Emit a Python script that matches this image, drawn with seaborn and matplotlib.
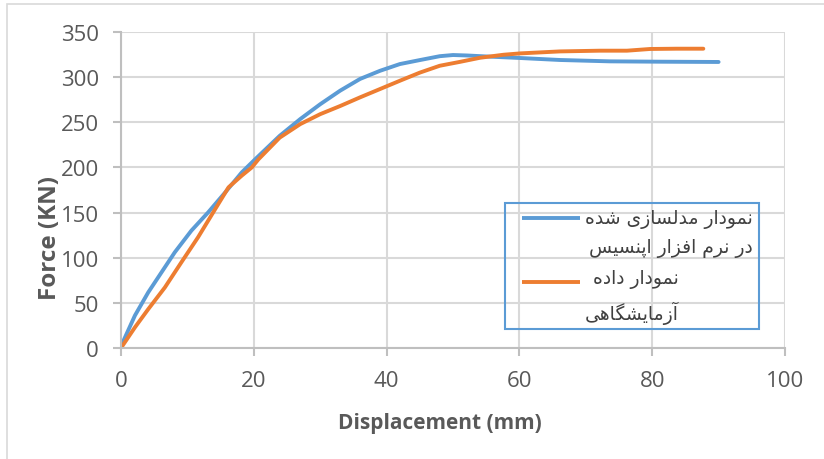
import seaborn as sns
import matplotlib.pyplot as plt
from matplotlib.patches import Rectangle
from matplotlib.lines import Line2D

# values
disp_model = [0, 2.1, 4.1, 6.1, 8.1, 10.6, 13.1, 15.7, 18.2, 20.2, 23.9, 27.0, 30.0,
              33.0, 36.0, 39.0, 42.0, 45.0, 48.0, 50.0, 52.1, 55.6, 60.1, 66.1,
              73.6, 81.2, 90.0]
force_model = [2, 36, 61.6, 83.8, 106, 130, 150, 172.4, 194.6, 209, 235, 253.6, 270,
               285, 298, 307, 314.5, 318.9, 323.2, 324.5, 324, 322.7, 321.2, 319,
               317.5, 317.1, 316.8]

disp_test = [0, 2.1, 4.1, 6.6, 9.1, 11.6, 14.2, 16.2, 18.2, 19.7, 20.7, 23.9, 27.0,
             30.0, 33.0, 36.0, 39.0, 42.0, 45.0, 48.0, 51.1, 54.1, 57.6, 60.1, 66.1,
             72.1, 76.2, 79.7, 83.7, 87.7]
force_test = [0, 22.9, 43, 67, 95, 122.6, 154, 178, 191, 200, 209, 233, 248,
              259, 268, 277.6, 286.8, 296, 305, 312.6, 317, 321.5, 324.8, 326.3, 328.5,
              329.3, 329.3, 331.2, 331.5, 331.5]

legend_labels = ['نمودار مدلسازی شده\nدر نرم افزار اپنسیس',
                 'نمودار داده\nآزمایشگاهی']
x_ticks = [0, 20, 40, 60, 80, 100]
y_ticks = [0, 50, 100, 150, 200, 250, 300, 350]
colors = ['#5B9BD5', '#ED7D31']

# contextual forms: isolated, final, initial, medial
FORMS = {
    'ا': ('\uFE8D', '\uFE8E'), 'آ': ('\uFE81', '\uFE82'),
    'د': ('\uFEA9', '\uFEAA'), 'ر': ('\uFEAD', '\uFEAE'),
    'ز': ('\uFEAF', '\uFEB0'), 'و': ('\uFEED', '\uFEEE'),
    'ن': ('\uFEE5', '\uFEE6', '\uFEE7', '\uFEE8'),
    'م': ('\uFEE1', '\uFEE2', '\uFEE3', '\uFEE4'),
    'ل': ('\uFEDD', '\uFEDE', '\uFEDF', '\uFEE0'),
    'س': ('\uFEB1', '\uFEB2', '\uFEB3', '\uFEB4'),
    'ش': ('\uFEB5', '\uFEB6', '\uFEB7', '\uFEB8'),
    'ه': ('\uFEE9', '\uFEEA', '\uFEEB', '\uFEEC'),
    'ف': ('\uFED1', '\uFED2', '\uFED3', '\uFED4'),
    'ی': ('\uFBFC', '\uFBFD', '\uFBFE', '\uFBFF'),
    'پ': ('\uFB56', '\uFB57', '\uFB58', '\uFB59'),
    'گ': ('\uFB92', '\uFB93', '\uFB94', '\uFB95'),
}


def shape_line(line):
    # join letters and reverse them for left-to-right drawing
    out = []
    for i, ch in enumerate(line):
        if ch not in FORMS:
            out.append(ch)
            continue
        prev = line[i - 1] if i > 0 else ''
        nxt = line[i + 1] if i + 1 < len(line) else ''
        join_prev = prev in FORMS and len(FORMS[prev]) == 4
        join_next = len(FORMS[ch]) == 4 and nxt in FORMS
        f = FORMS[ch]
        if join_prev and join_next:
            out.append(f[3])
        elif join_prev:
            out.append(f[1])
        elif join_next:
            out.append(f[2])
        else:
            out.append(f[0])
    return ''.join(reversed(out))


def shape(text):
    return '\n'.join(shape_line(l) for l in text.split('\n'))


sns.set_theme(style='whitegrid')
plt.rcParams['font.family'] = ['Open Sans', 'DejaVu Sans']

W, H = 824, 460
fig = plt.figure(figsize=(W / 100, H / 100), dpi=100)
ax = fig.add_axes([121 / W, 1 - 349 / H, 664 / W, 316 / H])

sns.lineplot(x=disp_model, y=force_model, sort=False, color=colors[0], linewidth=2.8, ax=ax)
sns.lineplot(x=disp_test, y=force_test, sort=False, color=colors[1], linewidth=2.8, ax=ax)

ax.set_xlim(0, 100)
ax.set_ylim(0, 350)
ax.set_xticks(x_ticks)
ax.set_yticks(y_ticks)
ax.grid(True, color='#D9D9D9', linewidth=1.5)
for side in ['top', 'right']:
    ax.spines[side].set_visible(False)
for side in ['left', 'bottom']:
    ax.spines[side].set_color('#BFBFBF')
    ax.spines[side].set_linewidth(1.5)
ax.tick_params(axis='both', length=6, width=1.5, color='#BFBFBF', direction='out',
               labelsize=16, labelcolor='#595959', left=True, bottom=True, pad=10)
ax.set_xlabel('')
ax.set_ylabel('')

fig.text(50 / W, 1 - 238 / H, 'Force (KN)', rotation=90, ha='center', va='center',
         fontsize=17.5, fontweight='bold', color='#595959')
fig.text(440 / W, 1 - 424 / H, 'Displacement (mm)', ha='center', va='center',
         fontsize=15, fontweight='bold', color='#595959')

# outer chart border
fig.patches.append(Rectangle((7 / W, -0.1), 1.2, 1 - 5 / H + 0.1, transform=fig.transFigure,
                             fill=False, edgecolor='#D9D9D9', linewidth=1.2))

# legend box drawn by hand so the key line sits on the first text line
fig.patches.append(Rectangle((505 / W, 1 - 330 / H), 254 / W, 126 / H,
                             transform=fig.transFigure, fill=False,
                             edgecolor='#5B9BD5', linewidth=1.5, zorder=5))
for label, color, y_line, y_text in zip(legend_labels, colors, [219, 283], [234, 297.5]):
    fig.lines.append(Line2D([522 / W, 580 / W], [1 - y_line / H] * 2, transform=fig.transFigure,
                            color=color, linewidth=2.8, solid_capstyle='butt'))
    fig.text(585 / W, 1 - y_text / H, shape(label), ha='left', va='center',
             multialignment='right', linespacing=1.65, fontsize=13.5,
             family='DejaVu Sans', color='#404040')

fig.savefig('out.png', dpi=100)
